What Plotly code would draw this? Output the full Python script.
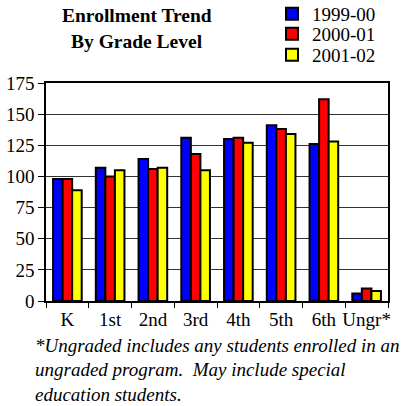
import plotly.graph_objects as go

grades = ["K", "1st", "2nd", "3rd", "4th", "5th", "6th", "Ungr*"]
y1999 = [98, 107, 114, 131, 130, 141, 126, 6]
y2000 = [98, 100, 106, 118, 131, 138, 162, 10]
y2001 = [89, 105, 107, 105, 127, 134, 128, 8]
series = [("1999-00", y1999, "#0000FF"), ("2000-01", y2000, "#FF0000"), ("2001-02", y2001, "#FFFF00")]
yticks = [0, 25, 50, 75, 100, 125, 150, 175]

W, H = 406, 406
L, R, T, B = 46, 18, 83, 105
pw, ph = W - L - R, H - T - B

def px(x):
    return (x - L) / pw

def py(y):
    return (H - B - y) / ph

font = "Liberation Serif"
FS = 19

fig = go.Figure()
legend_names = ["legend", "legend2", "legend3"]
legend_y = [14, 34, 55]
legends = {}
for i, (name, vals, col) in enumerate(series):
    fig.add_trace(go.Bar(x=grades, y=vals, name=name, legend=legend_names[i],
                         marker=dict(color=col, line=dict(color="black", width=2))))
    legends[legend_names[i]] = dict(x=px(272), y=py(legend_y[i]), xanchor="left", yanchor="middle",
                                    font=dict(family=font, size=FS), itemwidth=30,
                                    bgcolor="rgba(0,0,0,0)", borderwidth=0)

fig.update_layout(
    width=W, height=H, margin=dict(l=L, r=R, t=T, b=B, autoexpand=False),
    paper_bgcolor="white", plot_bgcolor="white",
    barmode="group", bargap=0.33, bargroupgap=0.0,
    font=dict(family=font, size=FS, color="black"),
    showlegend=True,
    xaxis=dict(showline=True, linecolor="black", linewidth=1.5, mirror=True,
               ticks="outside", tickson="boundaries", ticklen=5, tickcolor="black",
               showgrid=False, range=[-0.5, 7.5], tickangle=0,
               tickfont=dict(family=font, size=FS)),
    yaxis=dict(range=[0, 175], tickvals=yticks, showline=True, linecolor="black",
               linewidth=1.5, mirror=True, ticks="outside", ticklen=6, tickcolor="black",
               showgrid=True, gridcolor="#333333", gridwidth=1, zeroline=False,
               tickfont=dict(family=font, size=FS)),
    **legends,
)

fig.add_annotation(text="<b>Enrollment Trend</b>", x=px(137), y=py(16), xref="paper", yref="paper",
                   showarrow=False, font=dict(family=font, size=19.5), xanchor="center", yanchor="middle")
fig.add_annotation(text="<b>By Grade Level</b>", x=px(137), y=py(42), xref="paper", yref="paper",
                   showarrow=False, font=dict(family=font, size=19.5), xanchor="center", yanchor="middle")

notes = ["*Ungraded includes any students enrolled in an",
         "ungraded program.  May include special",
         "education students."]
note_y = [345, 369.5, 394]
for t, yy in zip(notes, note_y):
    fig.add_annotation(text="<i>" + t + "</i>", x=px(33), y=py(yy), xref="paper", yref="paper",
                       showarrow=False, font=dict(family=font, size=FS), xanchor="left", yanchor="middle")

fig.write_html("out.html", config={"displayModeBar": False},
               post_script="document.body.style.margin='0';document.body.style.padding='0';")
